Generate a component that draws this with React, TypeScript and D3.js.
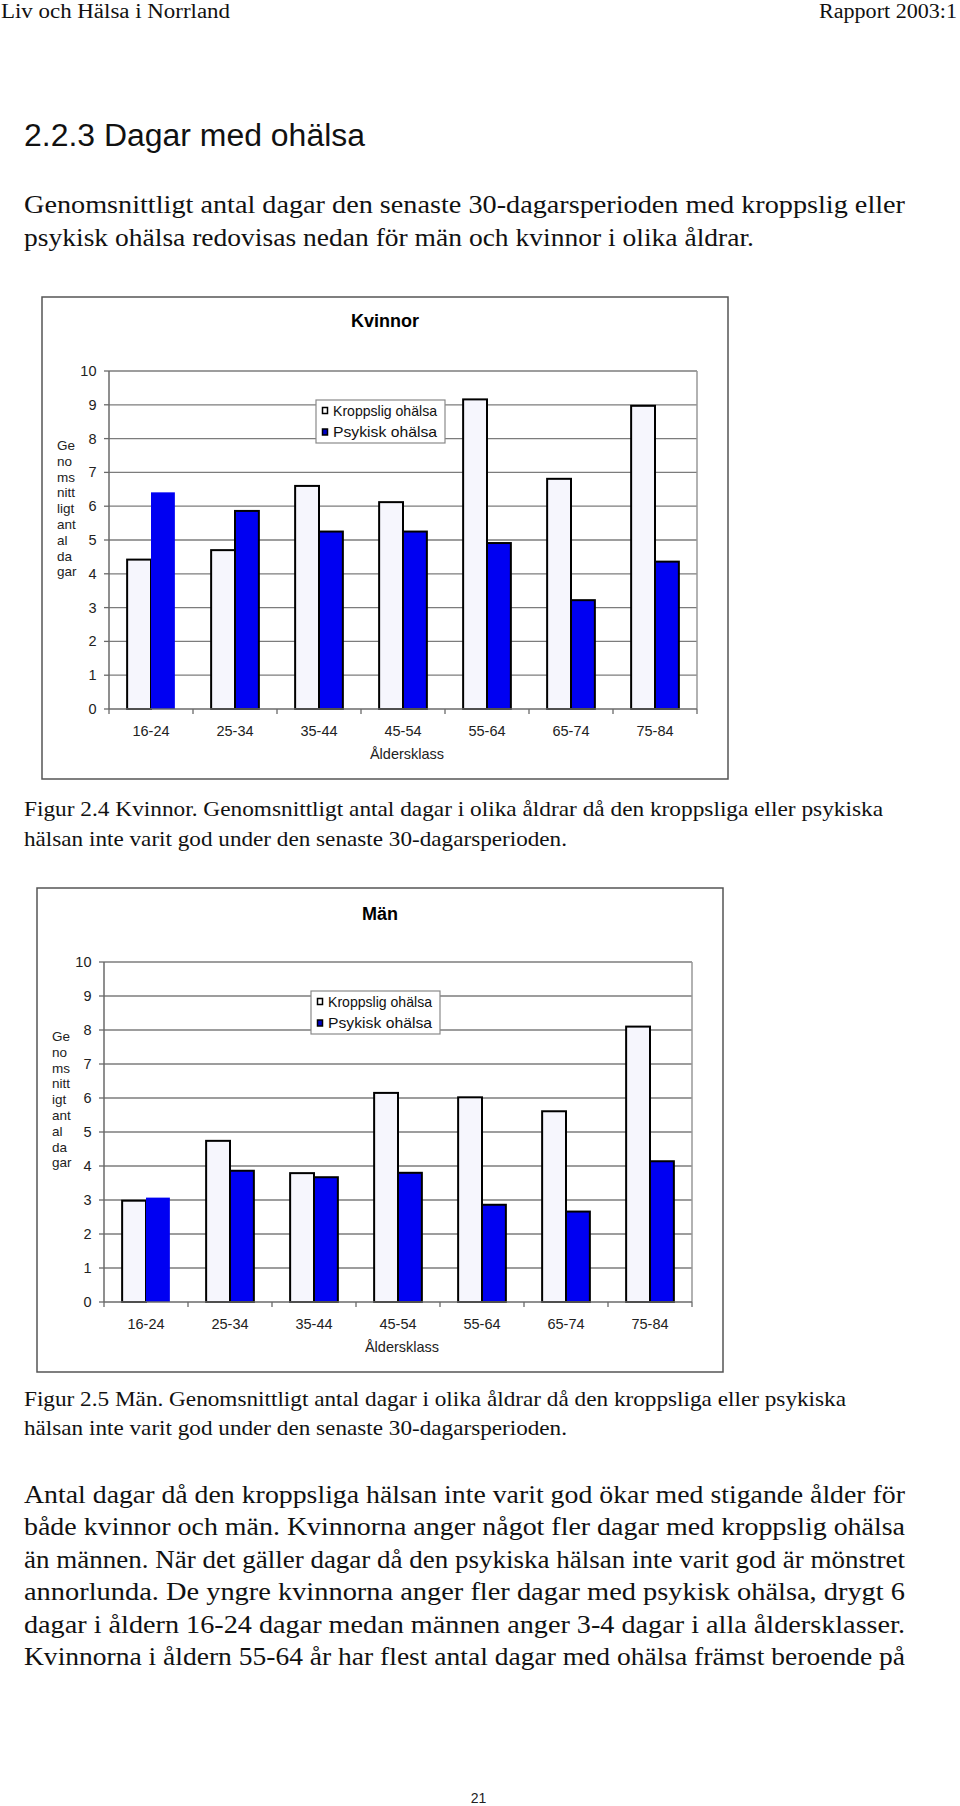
import * as d3 from 'd3';
import React from 'react';

// age groups and series
const ageGroups = ['16-24', '25-34', '35-44', '45-54', '55-64', '65-74', '75-84'];
const seriesNames = ['Kroppslig ohälsa', 'Psykisk ohälsa'];

// Kvinnor - mean days
const kvinnorKropp = [4.42, 4.7, 6.6, 6.12, 9.16, 6.81, 8.97];
const kvinnorPsyk = [6.41, 5.86, 5.25, 5.25, 4.91, 3.22, 4.36];

// Män
const manKropp = [2.98, 4.74, 3.79, 6.15, 6.02, 5.61, 8.1];
const manPsyk = [3.07, 3.86, 3.67, 3.8, 2.86, 2.66, 4.14];

const yDomain = [0, 10];
const kvinnorYTitle = ['Ge', 'no', 'ms', 'nitt', 'ligt', 'ant', 'al', 'da', 'gar'];
const manYTitle = ['Ge', 'no', 'ms', 'nitt', 'igt', 'ant', 'al', 'da', 'gar'];
const xTitle = 'Åldersklass';

// page text
const headerLeft = 'Liv och Hälsa i Norrland';
const headerRight = 'Rapport 2003:1';
const heading = '2.2.3 Dagar med ohälsa';
const introLines = [
  'Genomsnittligt antal dagar den senaste 30-dagarsperioden med kroppslig eller',
  'psykisk ohälsa redovisas nedan för män och kvinnor i olika åldrar.',
];
const caption24 = [
  'Figur 2.4 Kvinnor. Genomsnittligt antal dagar i olika åldrar då den kroppsliga eller psykiska',
  'hälsan inte varit god under den senaste 30-dagarsperioden.',
];
const caption25 = [
  'Figur 2.5 Män. Genomsnittligt antal dagar i olika åldrar då den kroppsliga eller psykiska',
  'hälsan inte varit god under den senaste 30-dagarsperioden.',
];
const bodyLines = [
  'Antal dagar då den kroppsliga hälsan inte varit god ökar med stigande ålder för',
  'både kvinnor och män. Kvinnorna anger något fler dagar med kroppslig ohälsa',
  'än männen. När det gäller dagar då den psykiska hälsan inte varit god är mönstret',
  'annorlunda. De yngre kvinnorna anger fler dagar med psykisk ohälsa, drygt 6',
  'dagar i åldern 16-24 dagar medan männen anger 3-4 dagar i alla åldersklasser.',
  'Kvinnorna i åldern 55-64 år har flest antal dagar med ohälsa främst beroende på',
];
const pageNumber = '21';

const SERIF = '"Liberation Serif", "Times New Roman", serif';
const SANS = '"Liberation Sans", Arial, sans-serif';

function BarChart({ title, kropp, psyk, yTitle, box, plot, titleY }) {
  const x0 = d3.scaleBand().domain(ageGroups).range([plot.x0, plot.x1]).padding(0);
  const x1 = d3
    .scaleBand()
    .domain(seriesNames)
    .range([0, x0.bandwidth()])
    .paddingInner(0)
    .paddingOuter(0.76);
  const y = d3.scaleLinear().domain(yDomain).range([plot.y1, plot.y0]);
  const ticks = y.ticks(10);
  const values = [kropp, psyk];
  const legend = { x: plot.x0 + 207, y: plot.y0 + 29, w: 129, h: 43 };
  const midX = (plot.x0 + plot.x1) / 2 + 4;

  return (
    <g>
      <rect x={box.x} y={box.y} width={box.w} height={box.h} fill="#fff" stroke="#555" strokeWidth={1.5} />
      <text x={box.x + box.w / 2} y={titleY} textAnchor="middle" fontFamily={SANS} fontWeight="bold" fontSize={18}>
        {title}
      </text>

      {/* grid */}
      {ticks.slice(1).map((t) => (
        <line key={t} x1={plot.x0} x2={plot.x1} y1={y(t)} y2={y(t)} stroke="#7c7c7c" strokeWidth={1.3} />
      ))}
      <line x1={plot.x1} x2={plot.x1} y1={plot.y0} y2={plot.y1} stroke="#999" strokeWidth={1.5} />

      {/* y axis */}
      <line x1={plot.x0} x2={plot.x0} y1={plot.y0} y2={plot.y1} stroke="#6a6a6a" strokeWidth={1.5} />
      {ticks.map((t) => (
        <g key={t}>
          <line x1={plot.x0 - 5} x2={plot.x0} y1={y(t)} y2={y(t)} stroke="#6a6a6a" strokeWidth={1.3} />
          <text x={plot.x0 - 12.5} y={y(t) + 5} textAnchor="end" fontFamily={SANS} fontSize={14.5} fill="#222">
            {t}
          </text>
        </g>
      ))}
      {yTitle.map((s, i) => (
        <text key={i} x={plot.x0 - 52} y={plot.y0 + 79 + i * 15.8} fontFamily={SANS} fontSize={13.5} fill="#222">
          {s}
        </text>
      ))}

      {/* bars */}
      {ageGroups.map((a, i) => (
        <g key={a} transform={`translate(${x0(a)},0)`}>
          {seriesNames.map((s, j) => {
            const v = values[j][i];
            const noEdge = j === 1 && i === 0;
            return (
              <rect
                key={s}
                x={x1(s)}
                y={y(v)}
                width={x1.bandwidth()}
                height={y(0) - y(v)}
                fill={j === 0 ? '#f6f6fd' : '#0000f2'}
                stroke={noEdge ? 'none' : '#000'}
                strokeWidth={2}
              />
            );
          })}
        </g>
      ))}

      {/* x axis */}
      <line x1={plot.x0} x2={plot.x1} y1={plot.y1} y2={plot.y1} stroke="#6a6a6a" strokeWidth={1.5} />
      {ageGroups.concat(['end']).map((a, i) => {
        const xx = plot.x0 + i * x0.step();
        return <line key={a} x1={xx} x2={xx} y1={plot.y1} y2={plot.y1 + 5} stroke="#6a6a6a" strokeWidth={1.3} />;
      })}
      {ageGroups.map((a) => (
        <text key={a} x={x0(a) + x0.bandwidth() / 2} y={plot.y1 + 27} textAnchor="middle" fontFamily={SANS} fontSize={14.5} fill="#222">
          {a}
        </text>
      ))}
      <text x={midX} y={plot.y1 + 50} textAnchor="middle" fontFamily={SANS} fontSize={14.5} fill="#222">
        {xTitle}
      </text>

      {/* legend */}
      <rect x={legend.x} y={legend.y} width={legend.w} height={legend.h} fill="#fff" stroke="#8a8a8a" strokeWidth={1.2} />
      {seriesNames.map((s, j) => {
        const cy = legend.y + 10.5 + j * 21.5;
        return (
          <g key={s}>
            <rect
              x={legend.x + 6.5}
              y={cy - 3}
              width={5}
              height={6}
              fill={j === 0 ? '#fff' : '#0000c8'}
              stroke="#000"
              strokeWidth={1.5}
            />
            <text x={legend.x + 17} y={cy + 5} fontFamily={SANS} fontSize={14.5} fill="#111" textLength={104} lengthAdjust="spacingAndGlyphs">
              {s}
            </text>
          </g>
        );
      })}
    </g>
  );
}

// a line of page text squeezed to the width it has on the scanned page
function Line({ t, x, y, size, width, family = SERIF }) {
  return (
    <text x={x} y={y} fontFamily={family} fontSize={size} textLength={width} lengthAdjust="spacingAndGlyphs" fill="#111">
      {t}
    </text>
  );
}

export default function App() {
  return (
    <div style={{ position: 'absolute', left: 0, top: 0 }}>
      <svg width={960} height={1806} style={{ display: 'block', background: '#fff' }}>
        <Line t={headerLeft} x={1} y={18} size={20} width={229} />
        <Line t={headerRight} x={819} y={18} size={20} width={138} />
        <Line t={heading} x={24} y={146} size={31} width={341} family={SANS} />
        {introLines.map((t, i) => (
          <Line key={i} t={t} x={24} y={213 + i * 33} size={26} width={[881, 730][i]} />
        ))}

        <BarChart
          title="Kvinnor"
          kropp={kvinnorKropp}
          psyk={kvinnorPsyk}
          yTitle={kvinnorYTitle}
          box={{ x: 42, y: 297, w: 686, h: 482 }}
          plot={{ x0: 109, x1: 697, y0: 371, y1: 709 }}
          titleY={327}
        />
        {caption24.map((t, i) => (
          <Line key={i} t={t} x={24} y={816 + i * 30} size={22} width={[859, 543][i]} />
        ))}

        <BarChart
          title="Män"
          kropp={manKropp}
          psyk={manPsyk}
          yTitle={manYTitle}
          box={{ x: 37, y: 888, w: 686, h: 484 }}
          plot={{ x0: 104, x1: 692, y0: 962, y1: 1302 }}
          titleY={920}
        />
        {caption25.map((t, i) => (
          <Line key={i} t={t} x={24} y={1406 + i * 29} size={22} width={[822, 543][i]} />
        ))}

        {bodyLines.map((t, i) => (
          <Line key={i} t={t} x={24} y={1503 + i * 32.4} size={26} width={881} />
        ))}

        <text x={478.5} y={1803} textAnchor="middle" fontFamily={SANS} fontSize={14} fill="#222">
          {pageNumber}
        </text>
      </svg>
    </div>
  );
}
